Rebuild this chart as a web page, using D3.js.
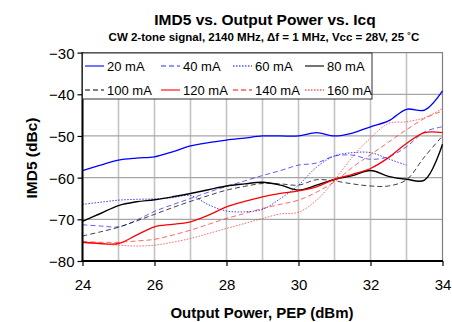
<!DOCTYPE html>
<html>
<head>
<meta charset="utf-8">
<script src="https://cdn.jsdelivr.net/npm/d3@7"></script>
<style>
  html, body { margin: 0; padding: 0; background: #fff; }
  svg { display: block; }
  text { font-family: Arial, "Liberation Sans", sans-serif; }
</style>
</head>
<body>
<svg id="chart" width="452" height="322"></svg>
<script>
// ---- data ----
const power = [24, 24.5, 25, 25.5, 26, 26.5, 27, 27.5, 28, 28.5, 29, 29.5, 30, 30.5, 31, 31.5, 32, 32.5, 33, 33.5, 34];
const seriesNames = ["20 mA", "40 mA", "60 mA", "80 mA", "100 mA", "120 mA", "140 mA", "160 mA"];
const imd20  = [-58.3, -57.0, -55.8, -55.3, -55.0, -53.8, -52.4, -51.6, -51.0, -50.5, -50.0, -50.0, -50.0, -49.2, -50.0, -49.3, -47.8, -46.4, -43.6, -43.8, -39.2];
const imd40  = [-71.3, -71.6, -71.8, -70.2, -68.1, -66.5, -65.0, -63.5, -62.1, -60.8, -59.5, -58.3, -57.0, -56.5, -54.8, -54.6, -55.6, -55.0, -52.6, -49.0, -47.8];
const imd60  = [-66.4, -65.9, -65.4, -65.2, -65.1, -64.8, -64.3, -66.5, -68.0, -68.2, -67.6, -65.0, -61.8, -57.5, -54.8, -54.0, -54.0, -55.5, -57.0, null, null];
const imd80  = [-70.5, -68.6, -66.7, -65.8, -65.3, -64.6, -63.8, -62.9, -62.0, -61.5, -61.1, -61.8, -63.0, -61.8, -60.4, -59.5, -58.3, -59.7, -60.4, -60.6, -52.0];
const imd100 = [-74.0, -73.0, -71.9, -70.4, -68.8, -67.2, -65.7, -64.3, -63.0, -62.1, -61.4, -61.5, -61.8, -60.5, -60.8, -61.5, -62.0, -62.0, -60.5, -55.0, -50.0];
const imd120 = [-75.5, -75.8, -75.8, -73.8, -71.8, -71.2, -70.6, -69.0, -67.0, -65.7, -64.6, -63.8, -63.2, -62.2, -60.4, -59.2, -57.8, -55.2, -51.8, -49.2, -49.2];
const imd140 = [-75.3, -75.5, -75.5, -75.2, -74.8, -73.8, -72.6, -71.2, -69.8, -68.6, -67.4, -66.4, -65.4, -63.5, -61.0, -57.5, -54.5, -51.5, -48.5, -45.8, -44.0];
const imd160 = [-75.6, -75.9, -76.2, -76.4, -76.2, -75.5, -74.6, -73.4, -72.2, -71.0, -69.8, -68.7, -68.3, -65.4, -60.6, -55.0, -50.5, -47.0, -46.6, -45.6, -43.4];
const xTicks = [24, 26, 28, 30, 32, 34];
const xGrid = [25, 26, 27, 28, 29, 30, 31, 32, 33];
const yTicks = [-80, -70, -60, -50, -40, -30];

const seriesValues = [imd20, imd40, imd60, imd80, imd100, imd120, imd140, imd160];
const seriesStyle = [
  { color: "#0000ff", dash: null,      width: 1.3, opacity: 1 },
  { color: "#2a2aff", dash: "5,3",     width: 1.0, opacity: 0.75 },
  { color: "#0000ff", dash: "1.5,1.5", width: 1.0, opacity: 0.75 },
  { color: "#000000", dash: null,      width: 1.4, opacity: 1 },
  { color: "#000000", dash: "5,3",     width: 1.0, opacity: 0.75 },
  { color: "#ff0000", dash: null,      width: 1.3, opacity: 1 },
  { color: "#ff0000", dash: "5,3",     width: 1.0, opacity: 0.6 },
  { color: "#ff0000", dash: "1.5,1.5", width: 1.0, opacity: 0.6 }
];

const svg = d3.select("#chart");
const L = 82.5, R = 442.5, T = 52.6, B = 261;
const x = d3.scaleLinear().domain([24, 34]).range([L, R]);
const y = d3.scaleLinear().domain([-80, -30]).range([B, T]);

// titles
svg.append("text").attr("x", 265).attr("y", 25).attr("text-anchor", "middle")
  .attr("font-size", "15.5px").attr("font-weight", "bold").text("IMD5 vs. Output Power vs. Icq");
svg.append("text").attr("x", 264).attr("y", 40.5).attr("text-anchor", "middle")
  .attr("font-size", "11.5px").attr("font-weight", "bold")
  .text("CW 2-tone signal, 2140 MHz, \u0394f = 1 MHz, Vcc = 28V, 25 \u02DAC");

// grid
const g = svg.append("g");
g.selectAll(".vg").data(xGrid).join("line")
  .attr("x1", d => x(d)).attr("x2", d => x(d)).attr("y1", T).attr("y2", B)
  .attr("stroke", "#c4c4c4").attr("stroke-width", 1.6);
g.selectAll(".hg").data(yTicks.slice(1, -1)).join("line")
  .attr("x1", L).attr("x2", R).attr("y1", d => y(d)).attr("y2", d => y(d))
  .attr("stroke", "#a6a6a6").attr("stroke-width", 1.2);
// plot border
g.append("rect").attr("x", L).attr("y", T).attr("width", R - L).attr("height", B - T)
  .attr("fill", "none").attr("stroke", "#808080").attr("stroke-width", 1.2);

// series
const line = d3.line()
  .defined(d => d[1] !== null)
  .x(d => x(d[0])).y(d => y(d[1]))
  .curve(d3.curveCatmullRom.alpha(0.5));
seriesValues.forEach((vals, i) => {
  const st = seriesStyle[i];
  svg.append("path")
    .datum(power.map((p, j) => [p, vals[j]]))
    .attr("d", line)
    .attr("fill", "none")
    .attr("stroke", st.color)
    .attr("stroke-opacity", st.opacity)
    .attr("stroke-width", st.width)
    .attr("stroke-dasharray", st.dash);
});

// axes
const xAxis = d3.axisBottom(x).tickValues(xTicks).tickSize(5).tickFormat(d3.format("d"));
const yAxis = d3.axisLeft(y).tickValues(yTicks).tickSize(5).tickFormat(d3.format("d"));
const gx = svg.append("g").attr("transform", `translate(0,${B})`).call(xAxis);
const gy = svg.append("g").attr("transform", `translate(${L},0)`).call(yAxis);
[gx, gy].forEach(ax => {
  ax.select(".domain").remove();
  ax.selectAll(".tick line").attr("stroke", "#000").attr("stroke-width", 1.2);
  ax.selectAll("text").attr("font-size", "15px").attr("fill", "#000")
    .attr("font-family", "Arial, 'Liberation Sans', sans-serif");
});
gx.selectAll("text").attr("dy", null).attr("y", 29);
gy.selectAll("text").attr("x", -8).attr("dy", "0.36em");
// axis lines (thick)
svg.append("line").attr("x1", L).attr("x2", L).attr("y1", T - 0.5).attr("y2", B + 1)
  .attr("stroke", "#000").attr("stroke-width", 2);
svg.append("line").attr("x1", L - 1).attr("x2", R + 0.5).attr("y1", B).attr("y2", B)
  .attr("stroke", "#000").attr("stroke-width", 2);

// axis titles
svg.append("text").attr("x", 262).attr("y", 318).attr("text-anchor", "middle")
  .attr("font-size", "15px").attr("font-weight", "bold").text("Output Power, PEP (dBm)");
svg.append("text").attr("transform", "translate(37,158) rotate(-90)").attr("text-anchor", "middle")
  .attr("font-size", "15.5px").attr("font-weight", "bold").text("IMD5 (dBc)");

// legend
const lg = svg.append("g");
lg.append("rect").attr("x", L).attr("y", 53).attr("width", 372 - L).attr("height", 46)
  .attr("fill", "#fff").attr("stroke", "#303030").attr("stroke-width", 1);
const colX = [83, 159, 231, 303];
const rowY = [66, 90];
seriesNames.forEach((name, i) => {
  const st = seriesStyle[i];
  const cx = colX[i % 4], cy = rowY[Math.floor(i / 4)];
  lg.append("line").attr("x1", cx + 2).attr("x2", cx + 21).attr("y1", cy).attr("y2", cy)
    .attr("stroke", st.color).attr("stroke-opacity", st.dash ? 1 : 0.55)
    .attr("stroke-width", st.dash ? 1 : 2)
    .attr("stroke-dasharray", st.dash);
  lg.append("text").attr("x", cx + 24).attr("y", cy + 4.6)
    .attr("font-size", "13px").text(name);
});
</script>
</body>
</html>
